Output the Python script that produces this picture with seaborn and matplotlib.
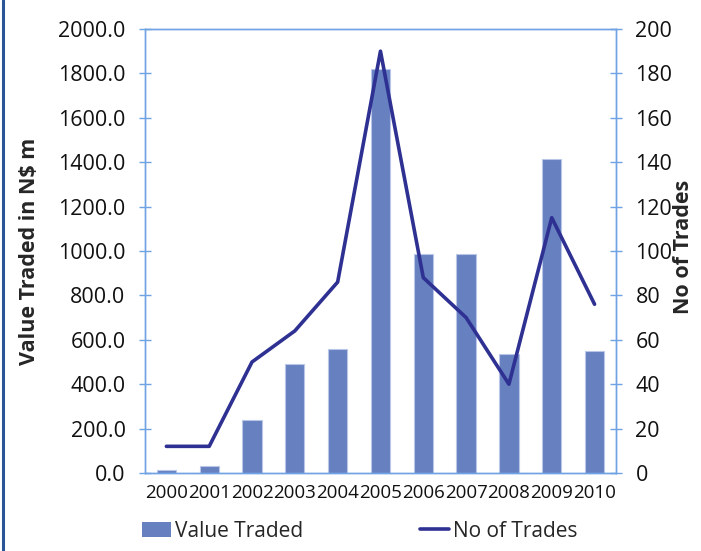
import matplotlib
matplotlib.use("Agg")
import matplotlib.pyplot as plt
from matplotlib.lines import Line2D
import numpy as np
import pandas as pd
import seaborn as sns

# values
years = ["2000", "2001", "2002", "2003", "2004", "2005",
         "2006", "2007", "2008", "2009", "2010"]
value_traded = [15, 33, 238, 490, 557, 1820, 985, 985, 538, 1416, 548]
no_of_trades = [12, 12, 50, 64, 86, 190, 88, 70, 40, 115, 76]

bar_color = "#6680C0"
line_color = "#2E3192"
axis_color = "#6FA3E3"

sns.set_style("white")
plt.rcParams["font.family"] = ["Open Sans", "DejaVu Sans"]

df = pd.DataFrame({"Year": years,
                   "Value Traded": value_traded,
                   "No of Trades": no_of_trades})
df["pos"] = np.arange(len(df))

fig = plt.figure(figsize=(7.01, 5.51), dpi=100)
ax = fig.add_axes([0.2068, 0.1416, 0.6719, 0.8058])
ax2 = ax.twinx()

sns.barplot(data=df, x="Year", y="Value Traded", ax=ax, color=bar_color,
            width=0.45, edgecolor="#B9C6E8", linewidth=0.8, saturation=1)
sns.lineplot(data=df, x="pos", y="No of Trades", ax=ax2, color=line_color,
             linewidth=2.6)

ax.set_xlim(-0.5, len(years) - 0.5)
ax.set_ylim(0, 2000)
ax.set_yticks(np.arange(0, 2001, 200))
ax.set_yticklabels([f"{v:.1f}" for v in np.arange(0, 2001, 200)])
ax2.set_ylim(0, 200)
ax2.set_yticks(np.arange(0, 201, 20))
ax2.set_yticklabels([str(v) for v in np.arange(0, 201, 20)])

# Excel-style x axis: ticks between categories, labels centred
ax.set_xticks(np.arange(-0.5, len(years), 1.0))
ax.set_xticklabels([])
ax.set_xticks(np.arange(len(years)), minor=True)
ax.set_xticklabels(years, minor=True)
ax2.set_xlabel("")

for a in (ax, ax2):
    for s in a.spines.values():
        s.set_color(axis_color)
        s.set_linewidth(1.0)
        s.set_visible(True)

ax.tick_params(axis="x", which="major", direction="inout", length=8,
               color=axis_color, width=1.0)
ax.tick_params(axis="x", which="minor", length=0, labelsize=13.5, pad=8,
               labelcolor="#111111")
ax.tick_params(axis="y", direction="inout", length=8, color=axis_color,
               width=1.0, labelsize=15.5, pad=10, labelcolor="#111111", left=True)
ax2.tick_params(axis="y", direction="inout", length=8, color=axis_color,
                width=1.0, labelsize=15.5, pad=10, labelcolor="#111111", right=True)

ax.set_xlabel("")
ax.set_ylabel("Value Traded in N$ m", fontsize=15.5, fontweight="bold")
ax.yaxis.set_label_coords(-0.222, 0.5)
ax2.set_ylabel("No of Trades", fontsize=15.5, fontweight="bold")
ax2.yaxis.set_label_coords(1.121, 0.51)

handles = [plt.Rectangle((0, 0), 1, 1, facecolor=bar_color, edgecolor="none"),
           Line2D([0], [0], color=line_color, linewidth=2.6)]
fig.legend(handles, ["Value Traded", "No of Trades"], loc="center",
           bbox_to_anchor=(0.513, 0.036), ncol=2, frameon=False,
           fontsize=15, handlelength=1.4, handletextpad=0.2,
           columnspacing=5.6)

# dark frame line on the left edge
fig.add_artist(Line2D([0.0043, 0.0043], [0, 1], transform=fig.transFigure,
                      color="#2A5597", linewidth=2.2))

fig.savefig("out.png", dpi=100)
